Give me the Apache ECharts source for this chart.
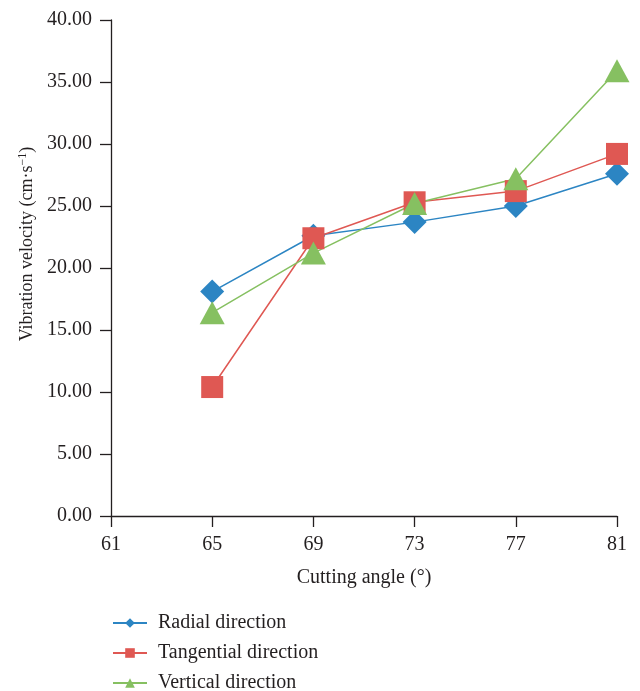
<!DOCTYPE html>
<html>
<head>
<meta charset="utf-8">
<script src="https://cdn.jsdelivr.net/npm/echarts@6/dist/echarts.min.js"></script>
<style>
    html, body { margin: 0; padding: 0; background: #fff; }
    #chart { width: 640px; height: 691px; }
</style>
</head>
<body>
<div id="chart"></div>
<script>
// 切削角度
var angles = [65, 69, 73, 77, 81];
// 各方向振动速度
var radial = [18.1, 22.6, 23.7, 25.0, 27.6];
var tangential = [10.4, 22.4, 25.3, 26.2, 29.2];
var vertical = [16.4, 21.2, 25.2, 27.2, 35.9];
var seriesNames = ['Radial direction', 'Tangential direction', 'Vertical direction'];

var FONT = '"Liberation Serif", "DejaVu Serif", serif';
var INK = '#231f20';

function pairs(vals) {
    return angles.map(function (a, i) { return [a, vals[i]]; });
}

var chart = echarts.init(document.getElementById('chart'));

var option = {
    animation: false,
    textStyle: { fontFamily: FONT, color: INK },
    grid: { left: 111, right: 23, top: 20, bottom: 175 },
    legend: {
        orient: 'vertical',
        left: 112,
        top: 613,
        height: 100,
        padding: 0,
        itemWidth: 34,
        itemHeight: 12,
        itemGap: 10,
        textStyle: { fontFamily: FONT, fontSize: 20, color: INK, padding: [0, 0, 0, 6] },
        data: seriesNames
    },
    xAxis: {
        type: 'value',
        min: 61,
        max: 81,
        interval: 4,
        name: 'Cutting angle (°)',
        nameLocation: 'middle',
        nameGap: 52,
        nameTextStyle: { fontFamily: FONT, fontSize: 20, color: INK },
        axisLine: { lineStyle: { color: INK, width: 1.3 } },
        axisTick: { show: true, length: 11, lineStyle: { color: INK, width: 1.3 } },
        axisLabel: { fontFamily: FONT, fontSize: 20, color: INK, margin: 19 },
        splitLine: { show: false }
    },
    yAxis: {
        type: 'value',
        min: 0,
        max: 40,
        interval: 5,
        name: 'Vibration velocity (cm·s{sup|−1})',
        nameLocation: 'middle',
        nameGap: 74,
        nameTextStyle: {
            fontFamily: FONT, fontSize: 18, color: INK,
            padding: [0, 0, 0, 48],
            rich: { sup: { fontFamily: FONT, fontSize: 12, verticalAlign: 'top', padding: [0, 0, 8, 0] } }
        },
        axisLine: { show: true, lineStyle: { color: INK, width: 1.3 } },
        axisTick: { show: true, length: 11, lineStyle: { color: INK, width: 1.3 } },
        axisLabel: {
            fontFamily: FONT, fontSize: 20, color: INK, margin: 19,
            formatter: function (v) { return v.toFixed(2); }
        },
        splitLine: { show: false }
    },
    series: [
        {
            name: seriesNames[0],
            type: 'line',
            data: pairs(radial),
            symbol: 'diamond',
            symbolSize: 24,
            color: '#2c85c3',
            lineStyle: { width: 1.5 }
        },
        {
            name: seriesNames[1],
            type: 'line',
            data: pairs(tangential),
            symbol: 'rect',
            symbolSize: 22,
            color: '#df5853',
            lineStyle: { width: 1.5 }
        },
        {
            name: seriesNames[2],
            type: 'line',
            data: pairs(vertical),
            symbol: 'triangle',
            symbolSize: [25, 23],
            color: '#86c061',
            lineStyle: { width: 1.5 }
        }
    ]
};

chart.setOption(option);
</script>
</body>
</html>
